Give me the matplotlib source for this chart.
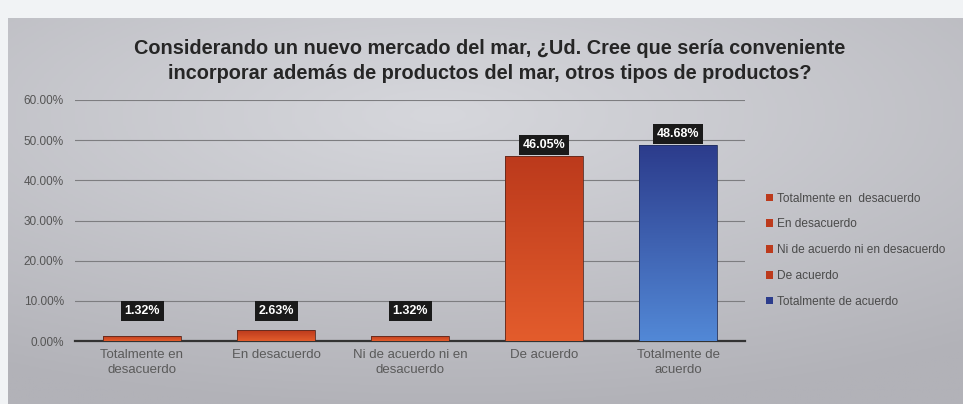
#!/usr/bin/env python3
"""Bar chart: opinion on adding other products to a new seafood market."""

import matplotlib

matplotlib.use("Agg")
import matplotlib.pyplot as plt
import numpy as np
from matplotlib.colors import LinearSegmentedColormap
from matplotlib.patches import Rectangle

CATEGORIES = [
    "Totalmente en\ndesacuerdo",
    "En desacuerdo",
    "Ni de acuerdo ni en\ndesacuerdo",
    "De acuerdo",
    "Totalmente de\nacuerdo",
]
LEGEND_LABELS = [
    "Totalmente en  desacuerdo",
    "En desacuerdo",
    "Ni de acuerdo ni en desacuerdo",
    "De acuerdo",
    "Totalmente de acuerdo",
]
VALUES = [0.0132, 0.0263, 0.0132, 0.4605, 0.4868]
VALUE_LABELS = ["1.32%", "2.63%", "1.32%", "46.05%", "48.68%"]
Y_TICKS = [0.0, 0.1, 0.2, 0.3, 0.4, 0.5, 0.6]
Y_TICK_LABELS = ["0.00%", "10.00%", "20.00%", "30.00%", "40.00%", "50.00%", "60.00%"]
TITLE = ("Considerando un nuevo mercado del mar, ¿Ud. Cree que sería conveniente\n"
         "incorporar además de productos del mar, otros tipos de productos?")

RED_TOP, RED_BOTTOM = "#bc3a1c", "#e35c2c"
BLUE_TOP, BLUE_BOTTOM = "#2c3c8c", "#5288d6"

plt.rcParams["font.family"] = ["Liberation Sans", "DejaVu Sans"]


def main() -> None:
    W, H = 963, 404
    fig = plt.figure(figsize=(W / 100, H / 100), dpi=100, facecolor="#f1f3f5")

    # grey gradient panel behind the chart
    bg = fig.add_axes([8 / W, 0, 1 - 8 / W, 1 - 18 / H])
    yy, xx = np.mgrid[0:1:200j, 0:1:400j]
    light = 1 - 0.9 * np.clip(np.hypot((xx - 0.45) * 1.1, (yy - 0.75) * 1.3), 0, 1)
    bg_cmap = LinearSegmentedColormap.from_list("bg", ["#b2b2b8", "#d6d7dc"])
    bg.imshow(light, cmap=bg_cmap, aspect="auto", origin="lower", extent=[0, 1, 0, 1])
    bg.set_axis_off()

    ax = fig.add_axes([75 / W, 1 - 341 / H, 670 / W, 241 / H])
    ax.set_facecolor("none")
    x = np.arange(len(CATEGORIES))

    bars = ax.bar(x, VALUES, width=0.58, color="none", edgecolor="none", zorder=3)
    for i, b in enumerate(bars):
        top, bottom = (BLUE_TOP, BLUE_BOTTOM) if i == 4 else (RED_TOP, RED_BOTTOM)
        cmap = LinearSegmentedColormap.from_list(f"g{i}", [bottom, top])
        grad = np.linspace(0, 1, 100).reshape(-1, 1)
        x0, w, h = b.get_x(), b.get_width(), b.get_height()
        im = ax.imshow(grad, cmap=cmap, aspect="auto", origin="lower",
                       extent=[x0, x0 + w, 0, h], zorder=3)
        im.set_clip_path(b)
        ax.add_patch(Rectangle((x0, 0), w, h, fill=False,
                               edgecolor="#5a2a20" if i < 4 else "#22305e",
                               lw=0.6, zorder=4))
    ax.set_xlim(-0.5, len(CATEGORIES) - 0.5)
    ax.set_ylim(0, 0.6)

    for xi, v, lab in zip(x, VALUES, VALUE_LABELS):
        ax.text(xi, max(v, 0.047) + 0.028, lab, ha="center", va="center",
                color="white", fontsize=9, fontweight="bold", zorder=5,
                bbox=dict(boxstyle="square,pad=0.3", fc="#1a1a1a", ec="none"))

    ax.set_yticks(Y_TICKS)
    ax.set_yticklabels(Y_TICK_LABELS, fontsize=8.5, color="#555555")
    ax.set_xticks(x)
    ax.set_xticklabels(CATEGORIES, fontsize=9.5, color="#5a5a5a", linespacing=1.25)
    ax.tick_params(length=0, pad=8)
    ax.tick_params(axis="x", pad=6)
    ax.grid(axis="y", color="#7d7d80", lw=0.8, zorder=1)
    for s in ("top", "right", "left"):
        ax.spines[s].set_visible(False)
    ax.spines["bottom"].set_color("#333333")
    ax.spines["bottom"].set_linewidth(1.6)

    # legend
    handles = [Rectangle((0, 0), 1, 1, fc=RED_TOP if i < 4 else BLUE_TOP, ec="none")
               for i in range(len(LEGEND_LABELS))]
    fig.legend(handles, LEGEND_LABELS, loc="upper left",
               bbox_to_anchor=(755 / W, 1 - 182 / H), frameon=False,
               fontsize=8.6, labelcolor="#4a4a4a", handlelength=0.6,
               handleheight=0.6, handletextpad=0.3, labelspacing=1.15)

    fig.text(490 / W, 1 - 61 / H, TITLE, ha="center", va="center",
             fontsize=14.3, fontweight="bold", color="#262626", linespacing=1.35)

    fig.savefig("out.png", dpi=100, facecolor=fig.get_facecolor())
    plt.close(fig)


if __name__ == "__main__":
    main()
